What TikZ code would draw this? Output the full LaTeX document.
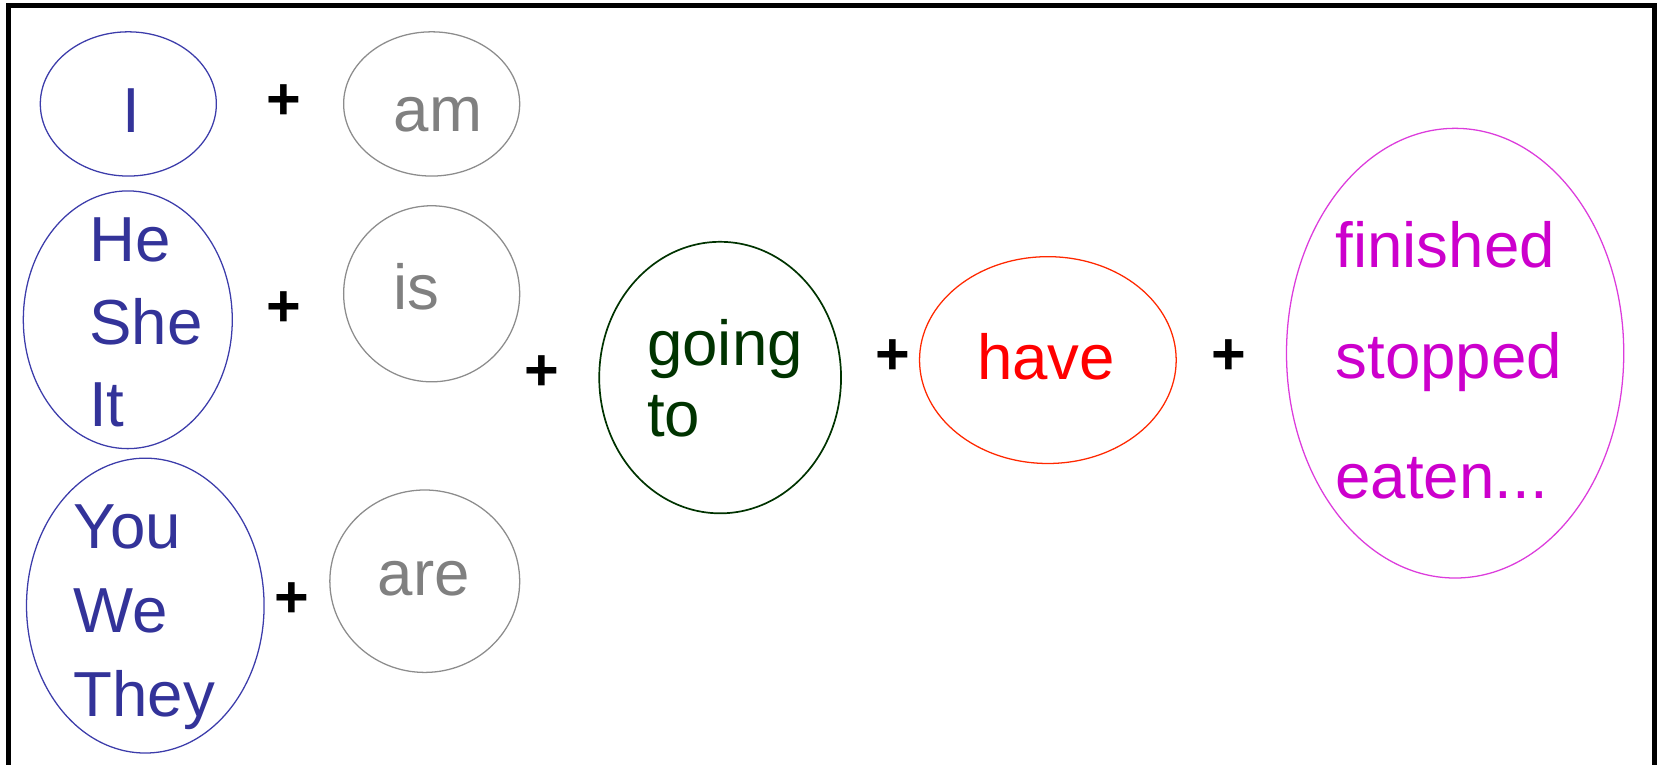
\documentclass[tikz,border=0pt]{standalone}
\usepackage{fontspec}
\setmainfont{Liberation Sans}
\usetikzlibrary{shapes.geometric}
\definecolor{blueT}{RGB}{51,51,153}
\definecolor{blueE}{RGB}{60,60,170}
\definecolor{greyT}{RGB}{128,128,128}
\definecolor{greyE}{RGB}{140,140,140}
\definecolor{greenT}{RGB}{0,51,0}
\definecolor{redT}{RGB}{255,0,0}
\definecolor{redE}{RGB}{255,40,0}
\definecolor{magT}{RGB}{204,0,204}
\definecolor{magE}{RGB}{220,60,220}
\tikzset{
  oval/.style={ellipse, draw, line width=1.2pt, inner sep=0pt},
  txt/.style={anchor=base west, inner sep=0pt, font=\fontsize{60}{64}\selectfont},
  plus/.style={anchor=center, inner sep=0pt, font=\fontsize{56}{60}\selectfont\bfseries},
}
\begin{document}
\begin{tikzpicture}[x=1pt,y=-1pt]
\useasboundingbox (0,0) rectangle (1568,721);
\draw[line width=4.5pt] (8,5) rectangle (1560,740);
% ellipses
\node[oval, draw=blueE, minimum width=166pt, minimum height=136pt] (eI) at (121,98) {};
\node[oval, draw=greyE, minimum width=166pt, minimum height=136pt] (eAm) at (407,98) {};
\node[oval, draw=blueE, minimum width=197pt, minimum height=243pt] (eHe) at (120.5,301.5) {};
\node[oval, draw=greyE, minimum width=166pt, minimum height=166pt] (eIs) at (407,277) {};
\node[oval, draw=blueE, minimum width=224pt, minimum height=278pt] (eYou) at (137,571) {};
\node[oval, draw=greyE, minimum width=179pt, minimum height=172pt] (eAre) at (400.5,548) {};
\node[oval, draw=greenT, line width=1.6pt, minimum width=228pt, minimum height=256pt] (eGo) at (679,356) {};
\node[oval, draw=redE, minimum width=242pt, minimum height=195pt] (eHave) at (988,339.5) {};
\node[oval, draw=magE, minimum width=318pt, minimum height=424pt] (eFin) at (1372,333) {};
% texts
\node[txt, text=blueT] (tI) at (115,125) {I};
\node[txt, text=greyT] (tAm) at (371,124) {am};
\node[txt, text=blueT] (tHe) at (84,247) {He};
\node[txt, text=blueT] (tShe) at (84,325) {She};
\node[txt, text=blueT] (tIt) at (84,402) {It};
\node[txt, text=greyT] (tIs) at (371,292) {is};
\node[txt, text=blueT] (tYou) at (69,517) {You};
\node[txt, text=blueT] (tWe) at (69,596) {We};
\node[txt, text=blueT] (tThey) at (69,676) {They};
\node[txt, text=greyT] (tAre) at (356,561) {are};
\node[txt, text=greenT] (tGoing) at (610,345) {going};
\node[txt, text=greenT] (tTo) at (610,412) {to};
\node[txt, text=redT] (tHave) at (921,358) {have};
\node[txt, text=magT] (tFin) at (1259,252) {finished};
\node[txt, text=magT] (tStop) at (1259,357) {stopped};
\node[txt, text=magT] (tEat) at (1259,470) {eaten...};
% plus signs
\node[plus] (p1) at (268,96) {+};
\node[plus] (p2) at (268,291) {+};
\node[plus] (p3) at (275,566) {+};
\node[plus] (p4) at (511,352) {+};
\node[plus] (p5) at (842,337) {+};
\node[plus] (p6) at (1159,337) {+};
\end{tikzpicture}
\end{document}
